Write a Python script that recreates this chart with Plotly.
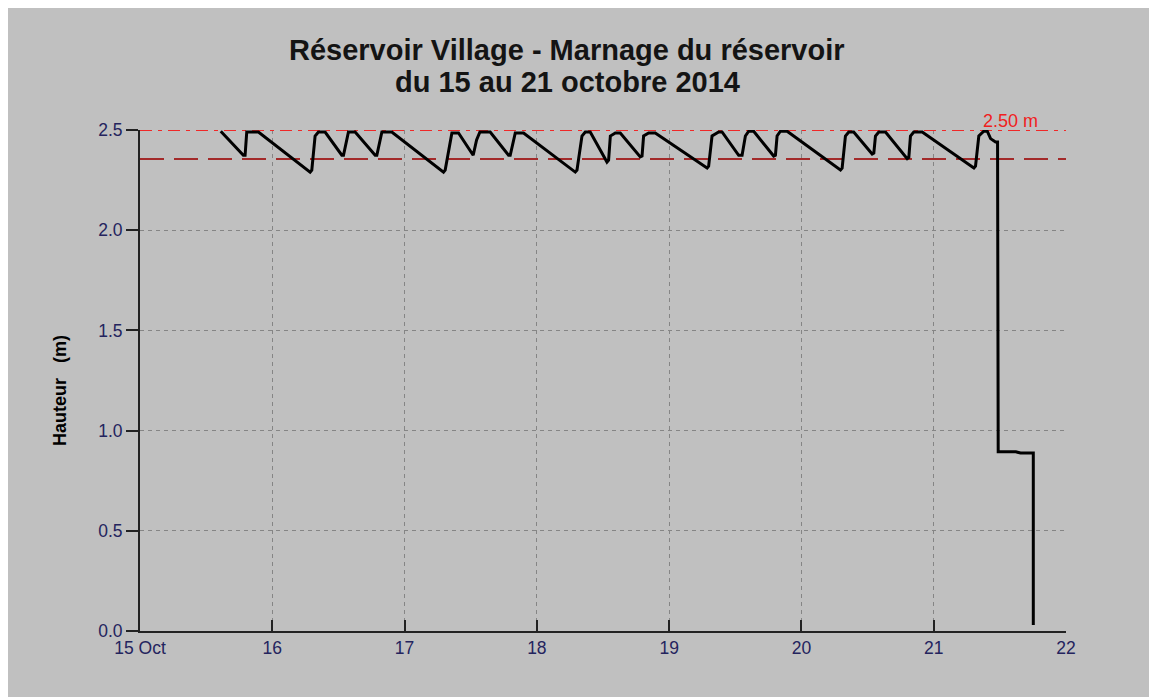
import plotly.graph_objects as go

# Reservoir level readings (time, height in m)
times = [
    "2014-10-15 14:39", "2014-10-15 18:45", "2014-10-15 19:04", "2014-10-15 19:22", "2014-10-15 21:29",
    "2014-10-16 06:52", "2014-10-16 07:10", "2014-10-16 07:46", "2014-10-16 08:22", "2014-10-16 09:35",
    "2014-10-16 12:37", "2014-10-16 12:55", "2014-10-16 13:49", "2014-10-16 15:02",
    "2014-10-16 18:40", "2014-10-16 18:58", "2014-10-16 19:53", "2014-10-16 21:41",
    "2014-10-17 07:04", "2014-10-17 07:22", "2014-10-17 08:35", "2014-10-17 09:47",
    "2014-10-17 12:27", "2014-10-17 13:04", "2014-10-17 13:40", "2014-10-17 15:32",
    "2014-10-17 18:52", "2014-10-17 19:10", "2014-10-17 20:05", "2014-10-17 21:35",
    "2014-10-18 06:58", "2014-10-18 07:17", "2014-10-18 08:11", "2014-10-18 08:47", "2014-10-18 09:41",
    "2014-10-18 12:43", "2014-10-18 13:01", "2014-10-18 13:20", "2014-10-18 14:14", "2014-10-18 15:08",
    "2014-10-18 18:46", "2014-10-18 19:05", "2014-10-18 19:22", "2014-10-18 20:17", "2014-10-18 21:29",
    "2014-10-19 06:53", "2014-10-19 07:10", "2014-10-19 07:47", "2014-10-19 08:59", "2014-10-19 09:36",
    "2014-10-19 12:37", "2014-10-19 13:14", "2014-10-19 13:50", "2014-10-19 14:26", "2014-10-19 15:20",
    "2014-10-19 18:58", "2014-10-19 19:17", "2014-10-19 19:35", "2014-10-19 20:11", "2014-10-19 21:24",
    "2014-10-20 07:05", "2014-10-20 07:23", "2014-10-20 07:59", "2014-10-20 08:35", "2014-10-20 09:29",
    "2014-10-20 12:50", "2014-10-20 13:08", "2014-10-20 13:26", "2014-10-20 14:02", "2014-10-20 15:15",
    "2014-10-20 19:11", "2014-10-20 19:29", "2014-10-20 19:47", "2014-10-20 20:23", "2014-10-20 21:55",
    "2014-10-21 07:17", "2014-10-21 07:35", "2014-10-21 08:11", "2014-10-21 09:05", "2014-10-21 09:43",
    "2014-10-21 10:19", "2014-10-21 11:13", "2014-10-21 11:35", "2014-10-21 11:42",
    "2014-10-21 14:54", "2014-10-21 15:45", "2014-10-21 18:04", "2014-10-21 18:04",
]
heights = [
    2.494, 2.374, 2.374, 2.490, 2.490,
    2.290, 2.300, 2.470, 2.490, 2.490,
    2.374, 2.374, 2.490, 2.490,
    2.374, 2.374, 2.490, 2.490,
    2.290, 2.300, 2.485, 2.485,
    2.374, 2.450, 2.490, 2.490,
    2.374, 2.374, 2.485, 2.485,
    2.290, 2.300, 2.470, 2.490, 2.490,
    2.340, 2.350, 2.470, 2.485, 2.485,
    2.366, 2.370, 2.470, 2.485, 2.485,
    2.310, 2.320, 2.470, 2.490, 2.490,
    2.374, 2.374, 2.470, 2.494, 2.494,
    2.370, 2.374, 2.470, 2.494, 2.494,
    2.300, 2.310, 2.470, 2.490, 2.490,
    2.380, 2.385, 2.470, 2.490, 2.490,
    2.357, 2.363, 2.470, 2.490, 2.490,
    2.310, 2.320, 2.470, 2.494, 2.494,
    2.457, 2.440, 2.440, 0.894,
    0.894, 0.888, 0.888, 0.030,
]

day_ticks = ["2014-10-15", "2014-10-16", "2014-10-17", "2014-10-18",
             "2014-10-19", "2014-10-20", "2014-10-21", "2014-10-22"]
day_labels = ["15 Oct", "16", "17", "18", "19", "20", "21", "22"]
y_ticks = [0.0, 0.5, 1.0, 1.5, 2.0, 2.5]
y_labels = ["0.0", "0.5", "1.0", "1.5", "2.0", "2.5"]

max_level = 2.50
max_label = "2.50 m"
low_level = 2.355

title_line1 = "Réservoir Village - Marnage du réservoir"
title_line2 = "du 15 au 21 octobre 2014"
y_title = "Hauteur&nbsp;&nbsp;&nbsp;(m)"

BG = "#c0c0c0"
TICK_COLOR = "#24245e"
FONT = "Liberation Sans, Arial, sans-serif"

fig = go.Figure()
# reference levels (drawn before the data line so it stays on top)
fig.add_trace(go.Scatter(
    x=[day_ticks[0], day_ticks[-1]], y=[low_level, low_level], mode="lines",
    line=dict(color="#a32a2a", width=2, dash="24px,10px"),
    showlegend=False, hoverinfo="skip",
))
fig.add_trace(go.Scatter(
    x=[day_ticks[0], day_ticks[-1]], y=[max_level, max_level], mode="lines",
    line=dict(color="#f02828", width=2, dash="12px,6px,4px,6px"),
    cliponaxis=False, showlegend=False, hoverinfo="skip",
))
fig.add_trace(go.Scatter(
    x=times, y=heights, mode="lines",
    line=dict(color="black", width=3),
    cliponaxis=False, showlegend=False, hoverinfo="skip",
))

fig.add_annotation(xref="paper", yref="paper", x=(1010-140)/926, y=(631-121)/501,
                   xanchor="center", yanchor="middle",
                   text=max_label, showarrow=False,
                   font=dict(family=FONT, size=18, color="#f02020"))

fig.add_annotation(xref="paper", yref="paper", x=(60-140)/926, y=(631-391)/501,
                   xanchor="center", yanchor="middle",
                   text="<b>" + y_title + "</b>", textangle=-90, showarrow=False,
                   font=dict(family=FONT, size=18, color="black"))

fig.add_annotation(xref="paper", yref="paper", x=(567-140)/926, y=(631-50)/501,
                   xanchor="center", yanchor="middle",
                   text="<b>" + title_line1 + "</b>", showarrow=False,
                   font=dict(family=FONT, size=29, color="#141414"))
fig.add_annotation(xref="paper", yref="paper", x=(567-140)/926, y=(631-82)/501,
                   xanchor="center", yanchor="middle",
                   text="<b>" + title_line2 + "</b>", showarrow=False,
                   font=dict(family=FONT, size=29, color="#141414"))

fig.update_layout(
    width=1149, height=689,
    paper_bgcolor=BG, plot_bgcolor=BG,
    margin=dict(l=132, r=91, t=122, b=66),
    font=dict(family=FONT, size=17, color=TICK_COLOR),
    showlegend=False,
)
fig.update_xaxes(
    type="date", range=[day_ticks[0], day_ticks[-1]],
    tickvals=day_ticks, ticktext=day_labels,
    showline=True, linecolor="#222222", linewidth=2,
    ticks="inside", ticklen=11, tickwidth=2, tickcolor="#222222",
    showgrid=True, gridcolor="#858585", gridwidth=1, griddash="4px,4px",
    zeroline=False, tickfont=dict(size=17.5, color=TICK_COLOR),
)
fig.update_yaxes(
    range=[0, 2.5], tickvals=y_ticks, ticktext=y_labels,
    showline=True, linecolor="#222222", linewidth=2,
    ticks="outside", ticklen=12, tickwidth=1.5, tickcolor="#222222",
    showgrid=True, gridcolor="#858585", gridwidth=1, griddash="4px,4px",
    zeroline=False, tickfont=dict(size=17.5, color=TICK_COLOR),
)

fig.write_html("out.html")
